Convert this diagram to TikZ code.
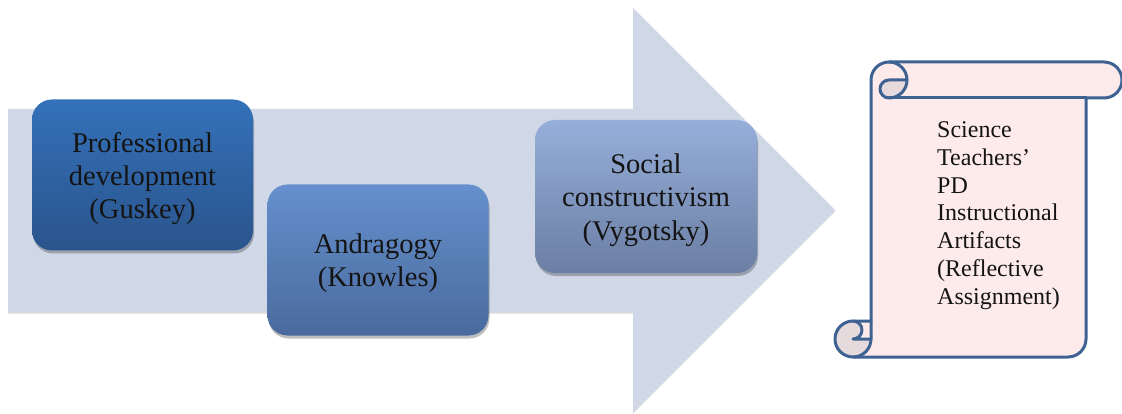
\documentclass[tikz,border=0pt]{standalone}
\usepackage{fontspec}
\setmainfont{Liberation Serif}
\usetikzlibrary{shadows}
\definecolor{arrowfill}{RGB}{208,216,232}
\definecolor{boxAtop}{RGB}{52,113,185}
\definecolor{boxAbot}{RGB}{42,84,140}
\definecolor{boxBtop}{RGB}{101,144,205}
\definecolor{boxBbot}{RGB}{74,106,157}
\definecolor{boxCtop}{RGB}{150,175,218}
\definecolor{boxCbot}{RGB}{107,126,163}
\definecolor{scrollfill}{RGB}{253,234,235}
\definecolor{scrolldark}{RGB}{231,218,220}
\definecolor{scrollline}{RGB}{62,99,146}
\tikzset{
  theorybox/.style={rounded corners=20pt, minimum width=221pt, minimum height=151pt,
    inner sep=0pt,
    drop shadow={shadow xshift=1pt, shadow yshift=-3pt, opacity=0.25, fill=black}},
  boxtext/.style={inner sep=0pt, align=center, font=\fontsize{28.5}{33.2}\selectfont, text=black!92},
  scrolledge/.style={draw=scrollline, line width=3pt, line join=round, line cap=round},
  scrolltext/.style={inner sep=0pt, align=left, anchor=west, font=\fontsize{24}{27.8}\selectfont, text=black!92}
}
\begin{document}
\begin{tikzpicture}[x=1pt,y=-1pt]
\useasboundingbox (0,0) rectangle (1122,414);
% big arrow
\fill[arrowfill, drop shadow={shadow xshift=0pt, shadow yshift=-1.5pt, opacity=0.15, fill=black}]
  (8,109) -- (633,109) -- (633,8) -- (835,210) -- (633,412) -- (633,312) -- (8,312) -- cycle;
% theory boxes
\node[theorybox, top color=boxAtop, bottom color=boxAbot] (pd) at (142.5,175) {};
\node[boxtext] (pdtext) at ([yshift=-3.5pt]pd.center) {Professional\\development\\(Guskey)};
\node[theorybox, top color=boxBtop, bottom color=boxBbot] (andr) at (378,260) {};
\node[boxtext] (andrtext) at ([yshift=-3.5pt]andr.center) {Andragogy\\(Knowles)};
\node[theorybox, minimum width=222pt, minimum height=153pt, top color=boxCtop, bottom color=boxCbot] (soc) at (646,196.5) {};
\node[boxtext] (soctext) at ([yshift=-3.5pt]soc.center) {Social\\constructivism\\(Vygotsky)};
% scroll
\fill[scrollfill] (871,321) -- (871,80) arc[start angle=180, end angle=90, radius=18pt]
  -- (1104,62) arc[start angle=90, end angle=-90, radius=18pt]
  -- (1086,98) -- (1086,339) arc[start angle=0, end angle=-90, radius=18pt]
  -- (853,357) arc[start angle=-90, end angle=-270, radius=18pt] -- cycle;
\fill[scrolldark] (907,80) arc[start angle=0, end angle=-90, radius=18pt]
  arc[start angle=-90, end angle=-270, radius=9pt] -- cycle;
\fill[scrolldark] (871,339) arc[start angle=0, end angle=-270, radius=18pt]
  arc[start angle=90, end angle=-90, radius=9pt] -- cycle;
\draw[scrolledge] (871,321) -- (871,80) arc[start angle=180, end angle=90, radius=18pt]
  -- (1104,62) arc[start angle=90, end angle=-90, radius=18pt]
  -- (1086,98) -- (1086,339) arc[start angle=0, end angle=-90, radius=18pt]
  -- (853,357) arc[start angle=-90, end angle=-270, radius=18pt] -- cycle;
\draw[scrolledge] (889,62) arc[start angle=90, end angle=-90, radius=18pt]
  arc[start angle=-90, end angle=-270, radius=9pt] -- (907,80);
\draw[scrolledge] (1086,98) -- (889,98);
\draw[scrolledge] (853,321) arc[start angle=90, end angle=-90, radius=9pt] -- (871,339);
\draw[scrolledge] (853,357) arc[start angle=-90, end angle=0, radius=18pt] -- (871,321);
\node[scrolltext] (txt) at (937,215.5) {Science\\Teachers’\\PD\\Instructional\\Artifacts\\(Reflective\\Assignment)};
\end{tikzpicture}
\end{document}
